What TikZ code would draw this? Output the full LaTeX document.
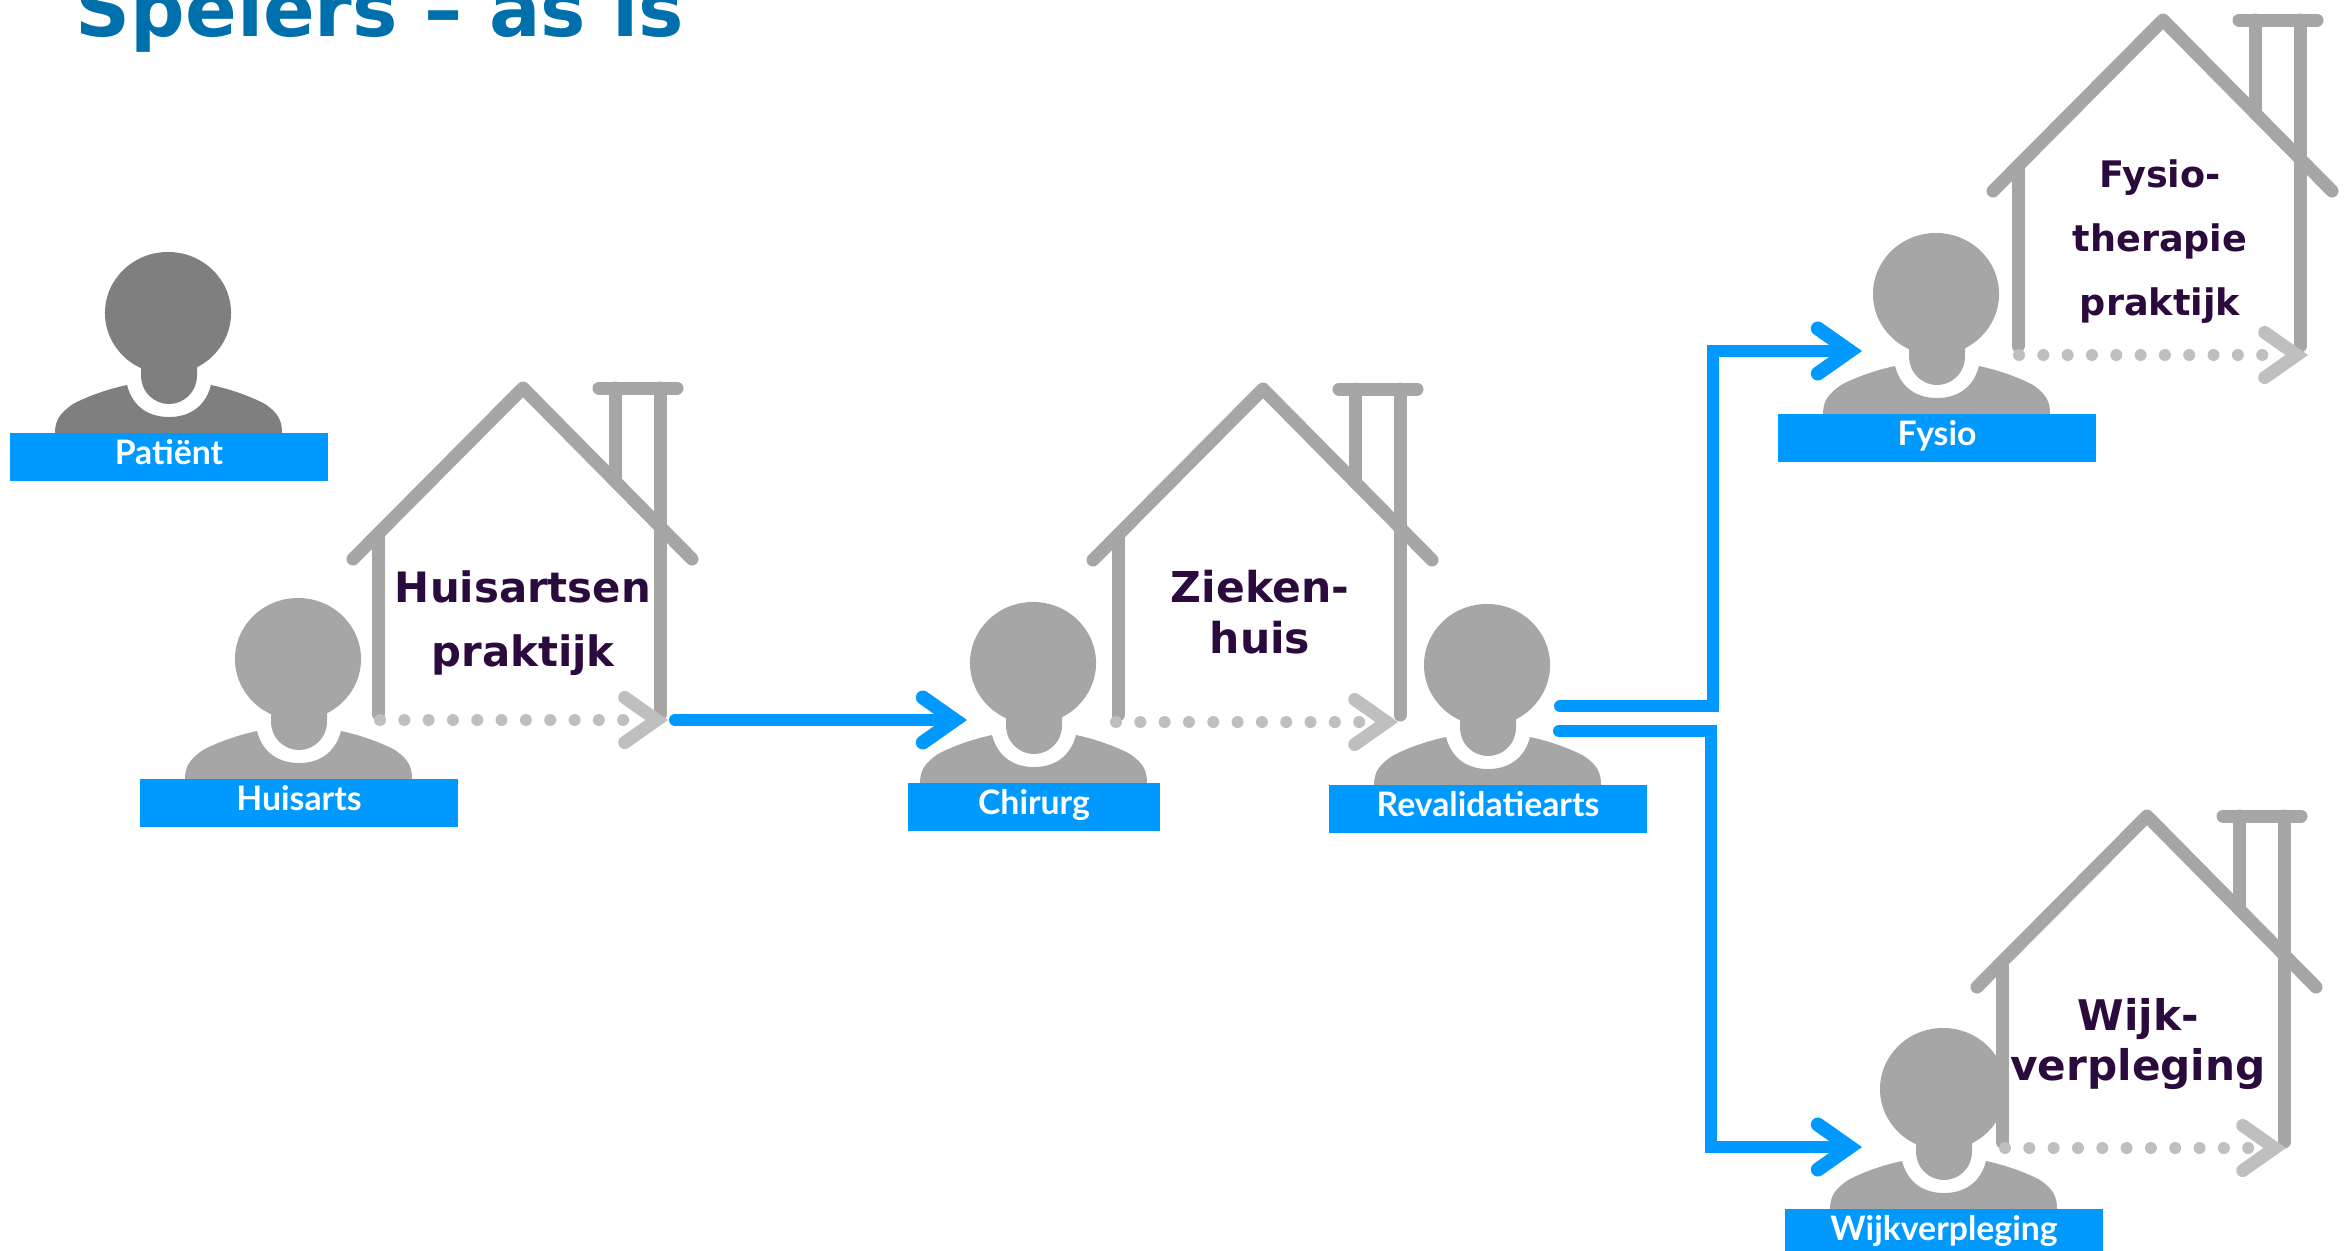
\documentclass[tikz,border=0pt]{standalone}
\usepackage{fontspec}
\setmainfont{DejaVu Sans}
\newfontfamily\rolfont{Lato}
\usetikzlibrary{positioning}
\usetikzlibrary{shapes}
\usetikzlibrary{arrows.meta}
\definecolor{blauw}{HTML}{0099FF}
\definecolor{titelblauw}{HTML}{0070AC}
\definecolor{paars}{HTML}{2B0A3D}
\definecolor{grijs}{HTML}{A6A6A6}
\definecolor{donkergrijs}{HTML}{7F7F7F}
\definecolor{lichtgrijs}{HTML}{BFBFBF}
\tikzstyle{hoofd}=[ellipse,inner sep=0pt,minimum width=1.26cm,minimum height=1.22cm]
\tikzstyle{rol}=[fill=blauw,text=white,inner xsep=0pt,inner ysep=0pt,minimum height=0.485cm,text height=6.1pt,text depth=2pt,font=\rolfont\bfseries\fontsize{9.6}{11}\selectfont]
\tikzstyle{muur}=[draw=grijs,line width=1.3mm,line cap=round,line join=round]
\tikzstyle{stippen}=[draw=lichtgrijs,line width=1.2mm,line cap=round,dash pattern=on 0pt off 2.43mm on 0pt off 2.43mm on 0pt off 2.43mm on 0pt off 2.43mm on 0pt off 2.43mm on 0pt off 2.43mm on 0pt off 2.43mm on 0pt off 2.43mm on 0pt off 2.43mm on 0pt off 2.43mm on 0pt off 2cm,-{Straight Barb[length=3.2mm,width=4.5mm,line width=1.3mm,line cap=round,line join=miter]}]
\tikzstyle{pijl}=[draw=blauw,line width=1.2mm,line cap=round,-{Straight Barb[length=3.2mm,width=4.5mm,line width=1.4mm,line cap=round,line join=miter]}]
\tikzstyle{huistekst}=[text=paars,align=center,anchor=base,inner sep=0pt]
\newcommand{\persoon}[6]{%
	\begin{scope}[shift={(#2,#3)}]
		\fill[#4] (-113,120) .. controls (-113,107) and (-108,100) .. (-95,91) .. controls (-80,83) and (-60,76) .. (-41,72) .. controls (-35,95) and (-18,104) .. (1,104) .. controls (20,104) and (37,95) .. (43,72) .. controls (62,76) and (82,83) .. (97,91) .. controls (110,100) and (114,107) .. (114,120) -- cycle;
		\fill[#4] (-27,40) -- (-27,62) .. controls (-27,80) and (-13,91) .. (1,91) .. controls (15,91) and (29,80) .. (29,62) -- (29,40) -- cycle;
		\node [hoofd,fill=#4] (#1) at (0,0) {};
		\node [rol,minimum width=#5,anchor=north] (#1-rol) at (1,119) {#6};
	\end{scope}
}
\newcommand{\huis}[6]{%
	\begin{scope}[shift={(#2,#3)}]
		\coordinate (#1-nok) at (0,0);
		\coordinate (#1-start) at (#4,#6);
		\coordinate (#1-eind) at (#5,#6);
		\draw[muur] (-170,171) -- (#1-nok) -- (169,171);
		\draw[muur] (-145,148) -- (-145,326);
		\draw[muur] (137,0) -- (137,326);
		\draw[muur] (92,0) -- (92,93);
		\draw[muur] (76,0) -- (154,0);
		\draw[stippen] (#1-start) -- (#1-eind);
	\end{scope}
}

\begin{document}
\begin{tikzpicture}[x=0.01cm,y=-0.01cm]
	
	\useasboundingbox (0,0) rectangle (2346,1250);
	
	\node [anchor=base west,inner sep=0pt,text=titelblauw,font=\bfseries\fontsize{21.7}{24}\selectfont] (titel) at (75,36) {Spelers – as is};
	
	\huis{huisartspraktijk}{523}{388}{-143}{145}{332}
	\huis{ziekenhuis}{1263}{389}{-147}{135}{333}
	\huis{fysiopraktijk}{2163}{20}{-144}{145}{335}
	\huis{wijkhuis}{2147}{816}{-142}{139}{332}
	
	\node [huistekst,font=\bfseries\fontsize{11.9}{18.2}\selectfont] (huisartstekst) at (523,666) {Huisartsen\\praktijk};
	\node [huistekst,font=\bfseries\fontsize{12.1}{14.5}\selectfont] (ziekenhuistekst) at (1260,653) {Zieken-\\huis};
	\node [huistekst,font=\bfseries\fontsize{10.4}{18.2}\selectfont] (fysiotekst) at (2160,315) {Fysio-\\therapie\\praktijk};
	\node [huistekst,font=\bfseries\fontsize{12}{14.2}\selectfont] (wijktekst) at (2138,1080) {Wijk-\\verpleging};
	
	\persoon{patient}{168}{313}{donkergrijs}{3.18cm}{Patiënt}
	\persoon{huisarts}{298}{659}{grijs}{3.18cm}{Huisarts}
	\persoon{chirurg}{1033}{663}{grijs}{2.52cm}{Chirurg}
	\persoon{revalidatiearts}{1487}{665}{grijs}{3.18cm}{Revalidatiearts}
	\persoon{fysio}{1936}{294}{grijs}{3.17cm}{Fysio}
	\persoon{wijkverpleging}{1943}{1089}{grijs}{3.18cm}{Wijkverpleging}
	
	\coordinate (huisarts-uit) at (675,720);
	\coordinate (chirurg-in) at (967,720);
	\coordinate (reval-boven) at (1560,706);
	\coordinate (hoek-boven) at (1713,706);
	\coordinate (fysio-in) at (1862,351);
	\coordinate (reval-onder) at (1559,731);
	\coordinate (hoek-onder) at (1711,731);
	\coordinate (wijk-in) at (1862,1147);
	
	\draw[pijl] (huisarts-uit) -- (chirurg-in);
	\draw[pijl] (reval-boven) -- (hoek-boven) |- (fysio-in);
	\draw[pijl] (reval-onder) -- (hoek-onder) |- (wijk-in);
	
\end{tikzpicture}
\end{document}
